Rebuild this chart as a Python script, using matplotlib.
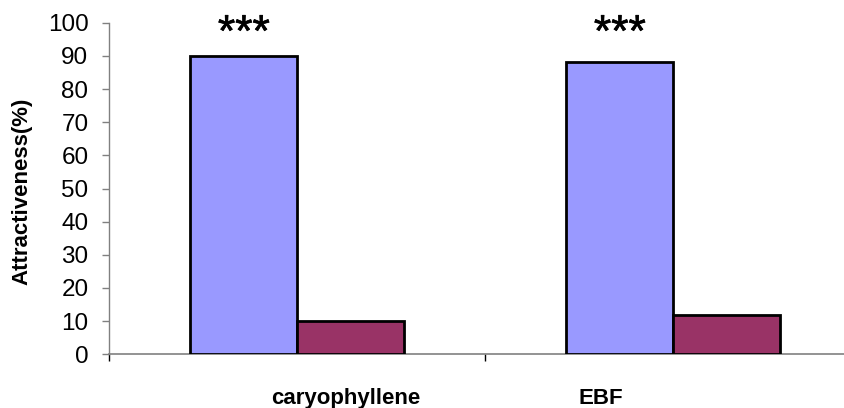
import numpy as np
import matplotlib
matplotlib.use('Agg')
import matplotlib.pyplot as plt
import matplotlib.patheffects as pe

plt.rcParams['font.family'] = ['Liberation Sans', 'DejaVu Sans']

categories = ['caryophyllene', 'EBF']
treated = [90, 88]      # blue bars
control = [10, 12]      # maroon bars
signif = ['***', '***']
yticks = list(range(0, 101, 10))

blue = '#9999FF'
maroon = '#993366'

fig = plt.figure(figsize=(8.44, 4.08), dpi=100)
ax = fig.add_axes([109.3/844, 53.7/408, 752/844, 331.6/408])

x = np.arange(len(categories))
w = 0.2846
ax.bar(x - w/2, treated, w, color=blue, edgecolor='black', linewidth=2, zorder=3)
ax.bar(x + w/2, control, w, color=maroon, edgecolor='black', linewidth=2, zorder=3)

# significance stars above the blue bars (slightly thickened)
for xi, v, s in zip(x - w/2, treated, signif):
    ax.text(xi, 96.5, s, ha='center', va='center', fontsize=32,
            path_effects=[pe.withStroke(linewidth=0.5, foreground='black')])

ax.set_xlim(-0.5, len(categories) - 0.5)
ax.set_ylim(0, 100)
ax.set_yticks(yticks)
ax.tick_params(axis='y', labelsize=17.5, length=5, width=1, color='#808080', pad=10)

# category separators on x axis, labels placed as in original
ax.set_xticks(np.arange(len(categories) + 1) - 0.5)
ax.set_xticklabels([])
ax.tick_params(axis='x', length=5, width=1, color='black')
label_offsets = [0.130, -0.193]
for xi, name, off in zip(x, categories, label_offsets):
    ax.text(xi + off, -0.150, name, transform=ax.get_xaxis_transform(),
            ha='center', va='baseline', fontsize=16, fontweight='bold')

ax.set_ylabel('Attractiveness(%)', fontsize=16, fontweight='bold', va='center')
ax.yaxis.set_label_coords(-0.116, 0.4925)

for side in ['top', 'right']:
    ax.spines[side].set_visible(False)
ax.spines['left'].set_color('#808080')
ax.spines['bottom'].set_color('#808080')
ax.spines['left'].set_linewidth(1)
ax.spines['bottom'].set_linewidth(1.2)

fig.savefig('out.png', dpi=100)
